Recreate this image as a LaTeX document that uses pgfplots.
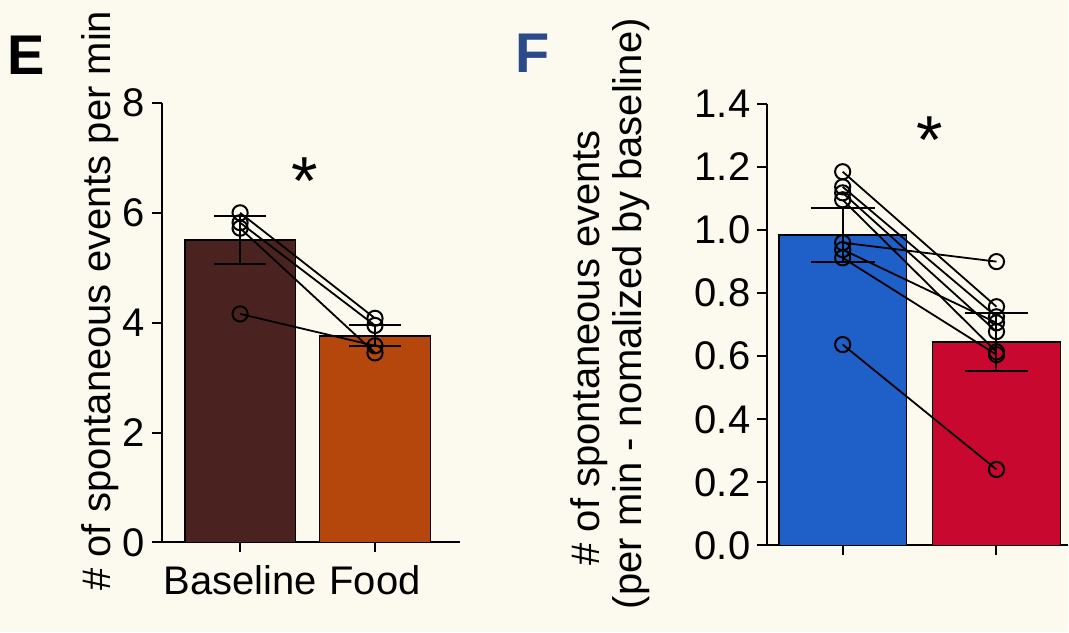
\documentclass[border=0pt]{standalone}
\usepackage{pgfplots}
\pgfplotsset{compat=1.18}
\usepackage{fontspec}
\setmainfont{Liberation Sans}
\definecolor{bg}{HTML}{FCFAEE}
\definecolor{cbase}{HTML}{4A2320}
\definecolor{cfood}{HTML}{B5470C}
\definecolor{cblue}{HTML}{1F5FC8}
\definecolor{cred}{HTML}{C8082E}
\definecolor{cF}{HTML}{2A4A8A}
\pgfplotsset{
  prism/.style={
    scale only axis, axis lines=left, clip=false,
    axis line style={-, line width=1pt, black},
    tick style={black, line width=1pt},
    tick align=outside, major tick length=5pt,
    /pgf/number format/assume math mode=true,
    tick label style={font=\fontsize{20}{24}\selectfont},
  },
  barE/.style={ybar, bar shift=0pt, draw=black, line width=0.8pt,
    error bars/y dir=both, error bars/y explicit,
    error bars/error bar style={line width=1pt, black},
    error bars/error mark options={rotate=90, mark size=13pt, line width=1pt, black}},
  barF/.style={ybar, bar shift=0pt, draw=black, line width=0.8pt,
    error bars/y dir=both, error bars/y explicit,
    error bars/error bar style={line width=1pt, black},
    error bars/error mark options={rotate=90, mark size=16pt, line width=1pt, black}},
  pair/.style={black, line width=0.9pt, mark=o, mark size=3.8pt,
    mark options={line width=1pt, fill=none}},
}
\begin{document}
\begin{tikzpicture}[x=1pt,y=1pt]
\fill[bg] (0,0) rectangle (534.5,316.5);
% Panel labels
\node[font=\fontsize{28}{30}\selectfont\bfseries] at (13,289) {E};
\node[font=\fontsize{28}{30}\selectfont\bfseries, text=cF] at (266.5,290) {F};
% Y labels
\node[rotate=90, font=\fontsize{20}{24}\selectfont] at (50,166) {\# of spontaneous events per min};
\node[rotate=90, font=\fontsize{20}{24}\selectfont] at (295,142.5) {\# of spontaneous events};
\node[rotate=90, font=\fontsize{20}{24}\selectfont] at (316,159.5) {(per min - nomalized by baseline)};
% Panel E
\begin{axis}[prism, at={(81pt,45pt)}, anchor=south west,
  width=149pt, height=220pt,
  xmin=-0.58, xmax=1.627, ymin=0, ymax=8,
  ytick={0,2,4,6,8},
  xtick={0,1}, xticklabels={Baseline,Food},
  xticklabel style={yshift=-3pt},
  bar width=0.82]
\addplot[barE, fill=cbase] coordinates {(0,5.5) +- (0,0.44)};
\addplot[barE, fill=cfood] coordinates {(1,3.76) +- (0,0.19)};
\addplot[pair] coordinates {(0,6.00) (1,4.08)};
\addplot[pair] coordinates {(0,5.82) (1,3.95)};
\addplot[pair] coordinates {(0,5.72) (1,3.45)};
\addplot[pair] coordinates {(0,4.16) (1,3.58)};
\node[anchor=base, font=\fontsize{34}{36}\selectfont] at (axis cs:0.48,6.15) {*};
\end{axis}
% Panel F
\begin{axis}[prism, at={(384pt,43.5pt)}, anchor=south west,
  width=150.5pt, height=221pt,
  xmin=-0.49, xmax=1.465, ymin=0, ymax=1.4,
  ytick={0,0.2,0.4,0.6,0.8,1.0,1.2,1.4},
  yticklabel style={/pgf/number format/.cd, fixed, fixed zerofill, precision=1},
  xtick={0,1}, xticklabels={,},
  bar width=0.83]
\addplot[barF, fill=cblue] coordinates {(0,0.985) +- (0,0.085)};
\addplot[barF, fill=cred] coordinates {(1,0.646) +- (0,0.092)};
\addplot[pair] coordinates {(0,1.185) (1,0.757)};
\addplot[pair] coordinates {(0,1.137) (1,0.725)};
\addplot[pair] coordinates {(0,1.118) (1,0.678)};
\addplot[pair] coordinates {(0,1.096) (1,0.614)};
\addplot[pair] coordinates {(0,0.960) (1,0.900)};
\addplot[pair] coordinates {(0,0.938) (1,0.706)};
\addplot[pair] coordinates {(0,0.912) (1,0.605)};
\addplot[pair] coordinates {(0,0.637) (1,0.241)};
\node[anchor=base, font=\fontsize{34}{36}\selectfont] at (axis cs:0.565,1.21) {*};
\end{axis}
\end{tikzpicture}
\end{document}
